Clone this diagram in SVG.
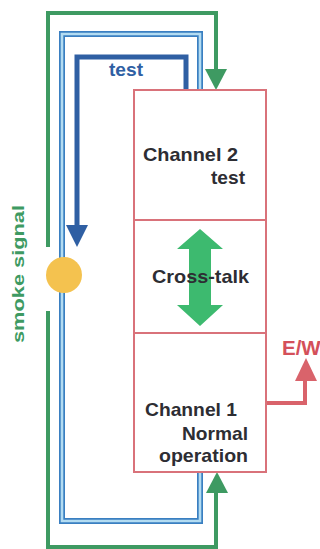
<svg xmlns="http://www.w3.org/2000/svg" width="320" height="549" viewBox="0 0 320 549">
<style>
  .t { font-family: "Liberation Sans", Arial, sans-serif; font-weight: bold; fill: #2d2d33; font-size: 18.5px; }
  .box { fill: #ffffff; stroke: #d9727a; stroke-width: 2; }
  .green { fill: none; stroke: #3e9a62; stroke-width: 4; }
  .pipeO { fill: none; stroke: #3a7fc1; stroke-width: 6; }
  .pipeI { fill: none; stroke: #b3dcf2; stroke-width: 2.6; }
  .dblue { fill: none; stroke: #2f5fa3; stroke-width: 5; }
  .red { fill: none; stroke: #d9636b; stroke-width: 4; }
</style>
<rect width="320" height="549" fill="#ffffff"/>

<g id="connectors">
  <!-- green smoke signal loop -->
  <path class="green" d="M48,247 V13 H216 V72"/>
  <polygon points="205,69 227,69 216,90" fill="#3e9a62"/>
  <path class="green" d="M48,311 V547 H216 V490"/>
  <polygon points="206,493 228,493 217,472" fill="#3e9a62"/>
  <!-- light blue pipe loop -->
  <path class="pipeO" d="M200,90 V34 H62 V521 H200 V472"/>
  <path class="pipeI" d="M200,90 V34 H62 V521 H200 V472"/>
  <!-- dark blue test line -->
  <path class="dblue" d="M186,90 V57 H77 V228"/>
  <polygon points="66,225 88,225 77,247" fill="#2f5fa3"/>
  <!-- red E/W output -->
  <path class="red" d="M266,403 H305 V376"/>
  <polygon points="295,381 317,381 306,358" fill="#d9636b"/>
</g>

<g id="sensor">
  <circle cx="64" cy="275" r="18" fill="#f4c24f"/>
</g>

<g id="channel2">
  <rect class="box" x="134" y="90" width="132" height="130"/>
  <text class="t" x="143" y="160.5" textLength="95" lengthAdjust="spacingAndGlyphs">Channel 2</text>
  <text class="t" x="211" y="184" textLength="34" lengthAdjust="spacingAndGlyphs">test</text>
</g>

<g id="crosstalk">
  <rect class="box" x="134" y="220" width="132" height="113"/>
  <polygon points="200,229 223,249 211,249 211,305 223,305 200,326 177,305 189,305 189,249 177,249" fill="#3dba6f"/>
  <text class="t" x="152" y="283" textLength="97" lengthAdjust="spacingAndGlyphs">Cross-talk</text>
</g>

<g id="channel1">
  <rect class="box" x="134" y="333" width="132" height="139"/>
  <text class="t" x="145" y="416" textLength="92" lengthAdjust="spacingAndGlyphs">Channel 1</text>
  <text class="t" x="182" y="440" textLength="66" lengthAdjust="spacingAndGlyphs">Normal</text>
  <text class="t" x="159" y="462" textLength="89" lengthAdjust="spacingAndGlyphs">operation</text>
</g>

<g id="labels">
  <text class="t" x="109" y="76" textLength="34" lengthAdjust="spacingAndGlyphs" style="fill:#2f5fa3">test</text>
  <text class="t" x="282" y="355" style="fill:#d4505a;font-size:20.5px">E/W</text>
  <text class="t" transform="translate(24,343) rotate(-90)" x="0" y="0" textLength="138" lengthAdjust="spacingAndGlyphs" style="fill:#3e9a62;font-size:16.5px">smoke signal</text>
</g>
</svg>
